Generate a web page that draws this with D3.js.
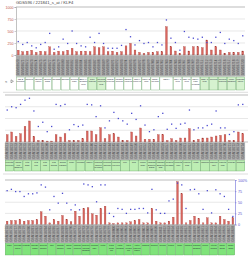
<!DOCTYPE html>
<html><head><meta charset="utf-8">
<script src="https://cdn.jsdelivr.net/npm/d3@7"></script>
<style>html,body{margin:0;padding:0;background:#fff;overflow:hidden}svg{display:block}</style>
</head><body>
<svg id="c" width="250" height="258"></svg>
<script>
const title = "GDS596 / 221841_s_at / KLF4";
const yTicks = [0, 250, 500, 750, 1000];
const yTickLabels = ["0", "250", "500", "750", "1000"];
const pctTicks = [0, 25, 50, 75, 100];
const pctTickLabels = ["0", "25", "50", "75", "100%"];

// expression values (count) per sample, panel by panel
const values1 = [100,70,80,100,55,80,70,170,55,80,70,100,140,70,80,80,70,170,150,170,70,80,55,70,190,
  243,104,55,35,55,55,70,70,590,173,83,35,173,83,173,173,153,312,104,173,104,35,55,55,55,83];
const ranks1 = [28,22,26,19,15,22,26,45,12,17,33,24,50,24,19,17,37,26,45,24,14,14,14,20,53,
  38,21,30,24,26,17,26,21,73,35,26,10,49,37,35,33,37,26,26,37,47,24,33,30,24,40];
const values2 = [156,213,120,177,333,447,120,35,35,20,20,156,106,177,35,35,35,71,234,234,156,305,71,156,177,106,35,
  35,213,128,298,57,57,57,156,156,35,71,35,85,85,284,35,57,85,85,106,128,142,156,35,35,213,177];
const ranks2 = [68,75,73,80,89,93,66,33,42,22,33,80,77,80,26,37,33,36,80,79,54,77,30,45,63,50,45,
  38,61,48,77,36,22,26,54,61,27,38,29,38,40,68,26,30,30,35,38,66,30,30,16,22,79,80];
const values3 = [75,90,90,112,75,90,90,112,285,187,37,112,75,202,112,60,300,187,360,375,240,210,360,412,37,22,37,37,
  37,60,90,112,37,37,360,75,37,37,75,165,965,690,37,90,187,135,37,150,37,37,187,112,75,150];
const ranks3 = [76,79,74,74,63,69,69,71,89,84,33,63,48,70,48,33,44,33,91,89,85,51,89,89,25,18,36,34,
  25,34,34,36,36,26,79,33,25,25,53,57,93,89,36,78,79,69,34,76,26,78,69,63,34,18];

const tissues = ["721 B lymphoblasts","adipocyte","adrenal cortex","adrenal gland","amygdala","appendix",
 "atrioventricular node","BDCA4+ dendritic cells","bone marrow","bronchial epithelial cells","cardiac myocytes",
 "caudate nucleus","CD105+ endothelial","CD14+ monocytes","CD19+ B cells","CD33+ myeloid","CD34+","CD4+ T cells",
 "CD56+ NK cells","CD71+ early erythroid","CD8+ T cells","cerebellum","cerebellum peduncles","ciliary ganglion",
 "cingulate cortex","colorectal adenocarcinoma","dorsal root ganglion","fetal brain","fetal liver","fetal lung",
 "fetal thyroid","globus pallidus","heart","hypothalamus","kidney","leukemia chronic myelogenous","leukemia lymphoblastic",
 "leukemia promyelocytic","liver","lung","lymph node","lymphoma Burkitt's Daudi","lymphoma Burkitt's Raji",
 "medulla oblongata","occipital lobe","olfactory bulb","ovary","pancreas","pancreatic islet","parietal lobe",
 "pituitary","placenta","pons","prefrontal cortex","prostate","salivary gland","skeletal muscle","skin",
 "smooth muscle","spinal cord","subthalamic nucleus","superior cervical ganglion","temporal lobe","testis",
 "testis germ cell","testis interstitial","testis Leydig cell","testis seminiferous tubule","thalamus","thymus",
 "thyroid","tongue","tonsil","trachea","trigeminal ganglion","uterus","uterus corpus","whole blood","whole brain"];
// samples per tissue (one tissue has three replicates)
const groupSizes = tissues.map((t, i) => i === 16 ? 3 : 2);
// groups of the first panel drawn with a pale green box (others white there)
const greenGroups1 = [8, 9, 20, 21, 22, 23, 24];
const sampleIdStart = 18670;

const svg = d3.select("#c");
const font = "'Liberation Sans', Arial, sans-serif";

const sampleGroup = [];
groupSizes.forEach((s, g) => { for (let k = 0; k < s; k++) sampleGroup.push(g); });

const panels = [
  {vals: values1, ranks: ranks1, x0: 16, x1: 245, sx1: 245, top: 7, base: 55, gTop: 55.5, gBot: 76.5, bTop: 77, bBot: 90, left: true, fill: g => greenGroups1.includes(g) ? "#d6f2cf" : "#ffffff", maxLines: 4},
  {vals: values2, ranks: ranks2, x0: 5, x1: 248, sx1: 245, top: 95, base: 142, gTop: 142.5, gBot: 160, bTop: 160.3, bBot: 171, fill: () => "#bdeeb3", maxLines: 3},
  {vals: values3, ranks: ranks3, x0: 5, x1: 235, sx1: 235, top: 180, base: 224.5, gTop: 225, gBot: 243, bTop: 243.3, bBot: 255, right: true, fill: () => "#7fe37a", maxLines: 3}
];

svg.append("text").attr("x", 16).attr("y", 4.2).attr("font-family", font).attr("font-size", 4.2)
  .attr("fill", "#444").text(title);

let offset = 0;
panels.forEach((p) => {
  const n = p.vals.length;
  const x = d3.scaleBand().domain(d3.range(n)).range([p.x0, p.sx1]).paddingInner(0.6).paddingOuter(0.3);
  const xs = d3.scaleBand().domain(d3.range(n)).range([p.x0, p.sx1]).padding(0);
  const step = xs.step();
  const y = d3.scaleLinear().domain([0, 1000]).range([p.base, p.top]);
  const yp = d3.scaleLinear().domain([0, 100]).range([p.base, p.top]);
  const g = svg.append("g");

  g.selectAll("line.grid").data(yTicks.slice(1)).join("line")
    .attr("x1", p.x0).attr("x2", p.x1).attr("y1", d => y(d)).attr("y2", d => y(d))
    .attr("stroke", d => d === 1000 ? "#aaa" : "#d8d8d8").attr("stroke-width", d => d === 1000 ? 0.8 : 0.6);

  if (p.left) {
    const ax = d3.axisLeft(y).tickValues(yTicks).tickFormat((d, i) => yTickLabels[i]).tickSize(1.5).tickPadding(1);
    const a = g.append("g").attr("transform", `translate(${p.x0},0)`).call(ax);
    a.select(".domain").attr("stroke", "#999").attr("stroke-width", 0.6);
    a.selectAll(".tick line").attr("stroke", "#999").attr("stroke-width", 0.5);
    a.selectAll("text").attr("font-family", font).attr("font-size", 3.6).attr("fill", "#c0504d");
  }
  if (p.right) {
    const ax = d3.axisRight(yp).tickValues(pctTicks).tickFormat((d, i) => pctTickLabels[i]).tickSize(1.5).tickPadding(1.5);
    const a = g.append("g").attr("transform", `translate(${p.x1},0)`).call(ax);
    a.select(".domain").attr("stroke", "#6b6bd6").attr("stroke-width", 0.6);
    a.selectAll(".tick line").attr("stroke", "#6b6bd6").attr("stroke-width", 0.5);
    a.selectAll("text").attr("font-family", font).attr("font-size", 3.6).attr("fill", "#5555cc");
  }

  // grey sample label strip
  g.append("rect").attr("x", p.x0).attr("y", p.gTop).attr("width", p.sx1 - p.x0).attr("height", p.gBot - p.gTop)
    .attr("fill", "#a9a9a9");
  g.selectAll("text.gsm").data(d3.range(n)).join("text")
    .attr("transform", i => `translate(${xs(i) + step / 2 + 1.1},${p.gBot - 1.2}) rotate(-90)`)
    .attr("font-family", font).attr("font-size", 3.1).attr("fill", "#4a4a4a")
    .text(i => "GSM" + (sampleIdStart + offset + i));
  g.selectAll("line.sep").data(d3.range(n + 1)).join("line")
    .attr("x1", i => p.x0 + i * step).attr("x2", i => p.x0 + i * step)
    .attr("y1", p.gTop).attr("y2", p.gBot).attr("stroke", "#d0d0d0").attr("stroke-width", 0.3);

  // bars
  g.selectAll("rect.bar").data(p.vals).join("rect")
    .attr("x", (d, i) => x(i)).attr("width", x.bandwidth())
    .attr("y", d => y(d)).attr("height", d => p.base - y(d))
    .attr("fill", "#d9665f").attr("stroke", "#a33a33").attr("stroke-width", 0.3);
  g.append("line").attr("x1", p.x0).attr("x2", p.x1).attr("y1", p.base).attr("y2", p.base)
    .attr("stroke", "#888").attr("stroke-width", 0.5);

  // percentile dots
  g.selectAll("rect.dot").data(p.ranks).join("rect")
    .attr("x", (d, i) => xs(i) + step / 2 - 0.65).attr("y", d => yp(d) - 0.65)
    .attr("width", 1.3).attr("height", 1.3).attr("fill", "#4a4ad0");

  // group boxes
  const groupsHere = [];
  for (let i = 0; i < n; i++) {
    const gi = sampleGroup[offset + i];
    if (!groupsHere.length || groupsHere[groupsHere.length - 1].g !== gi) groupsHere.push({g: gi, a: i, b: i});
    else groupsHere[groupsHere.length - 1].b = i;
  }
  const bx = g.selectAll("g.box").data(groupsHere).join("g");
  bx.append("rect")
    .attr("x", d => xs(d.a) + 0.2).attr("y", p.bTop)
    .attr("width", d => (d.b - d.a + 1) * step - 0.4).attr("height", p.bBot - p.bTop)
    .attr("fill", d => p.fill(d.g)).attr("stroke", "#5a9a5a").attr("stroke-width", 0.35);
  bx.each(function(d) {
    const w = (d.b - d.a + 1) * step - 1.2;
    const words = tissues[d.g].split(" ");
    const lines = [];
    let cur = "";
    words.forEach(wd => {
      if (!cur) cur = wd;
      else if ((cur + " " + wd).length <= 8) cur += " " + wd;
      else { lines.push(cur); cur = wd; }
    });
    if (cur) lines.push(cur);
    const sel = d3.select(this);
    lines.slice(0, p.maxLines).forEach((ln, k) => {
      const t = sel.append("text").attr("font-family", font).attr("font-size", 2.1).attr("fill", "#223")
        .attr("x", xs(d.a) + (d.b - d.a + 1) * step / 2).attr("y", p.bTop + 2.7 + k * 2.5)
        .attr("text-anchor", "middle").text(ln);
      const len = t.node().getComputedTextLength();
      if (len > w) t.attr("font-size", 2.1 * w / len);
    });
  });

  offset += n;
});

svg.append("text").attr("x", 5).attr("y", 82.5).attr("font-family", font).attr("font-size", 4)
  .attr("fill", "#333").text("\u2248");
svg.append("path").attr("d", "M11,79.8 L13.4,81.3 L11,82.8 Z").attr("fill", "none").attr("stroke", "#333").attr("stroke-width", 0.4);
[92.3, 174].forEach(yy => svg.append("line").attr("x1", 3).attr("x2", 248).attr("y1", yy).attr("y2", yy)
  .attr("stroke", "#bbb").attr("stroke-width", 0.5));
</script>
</body></html>
